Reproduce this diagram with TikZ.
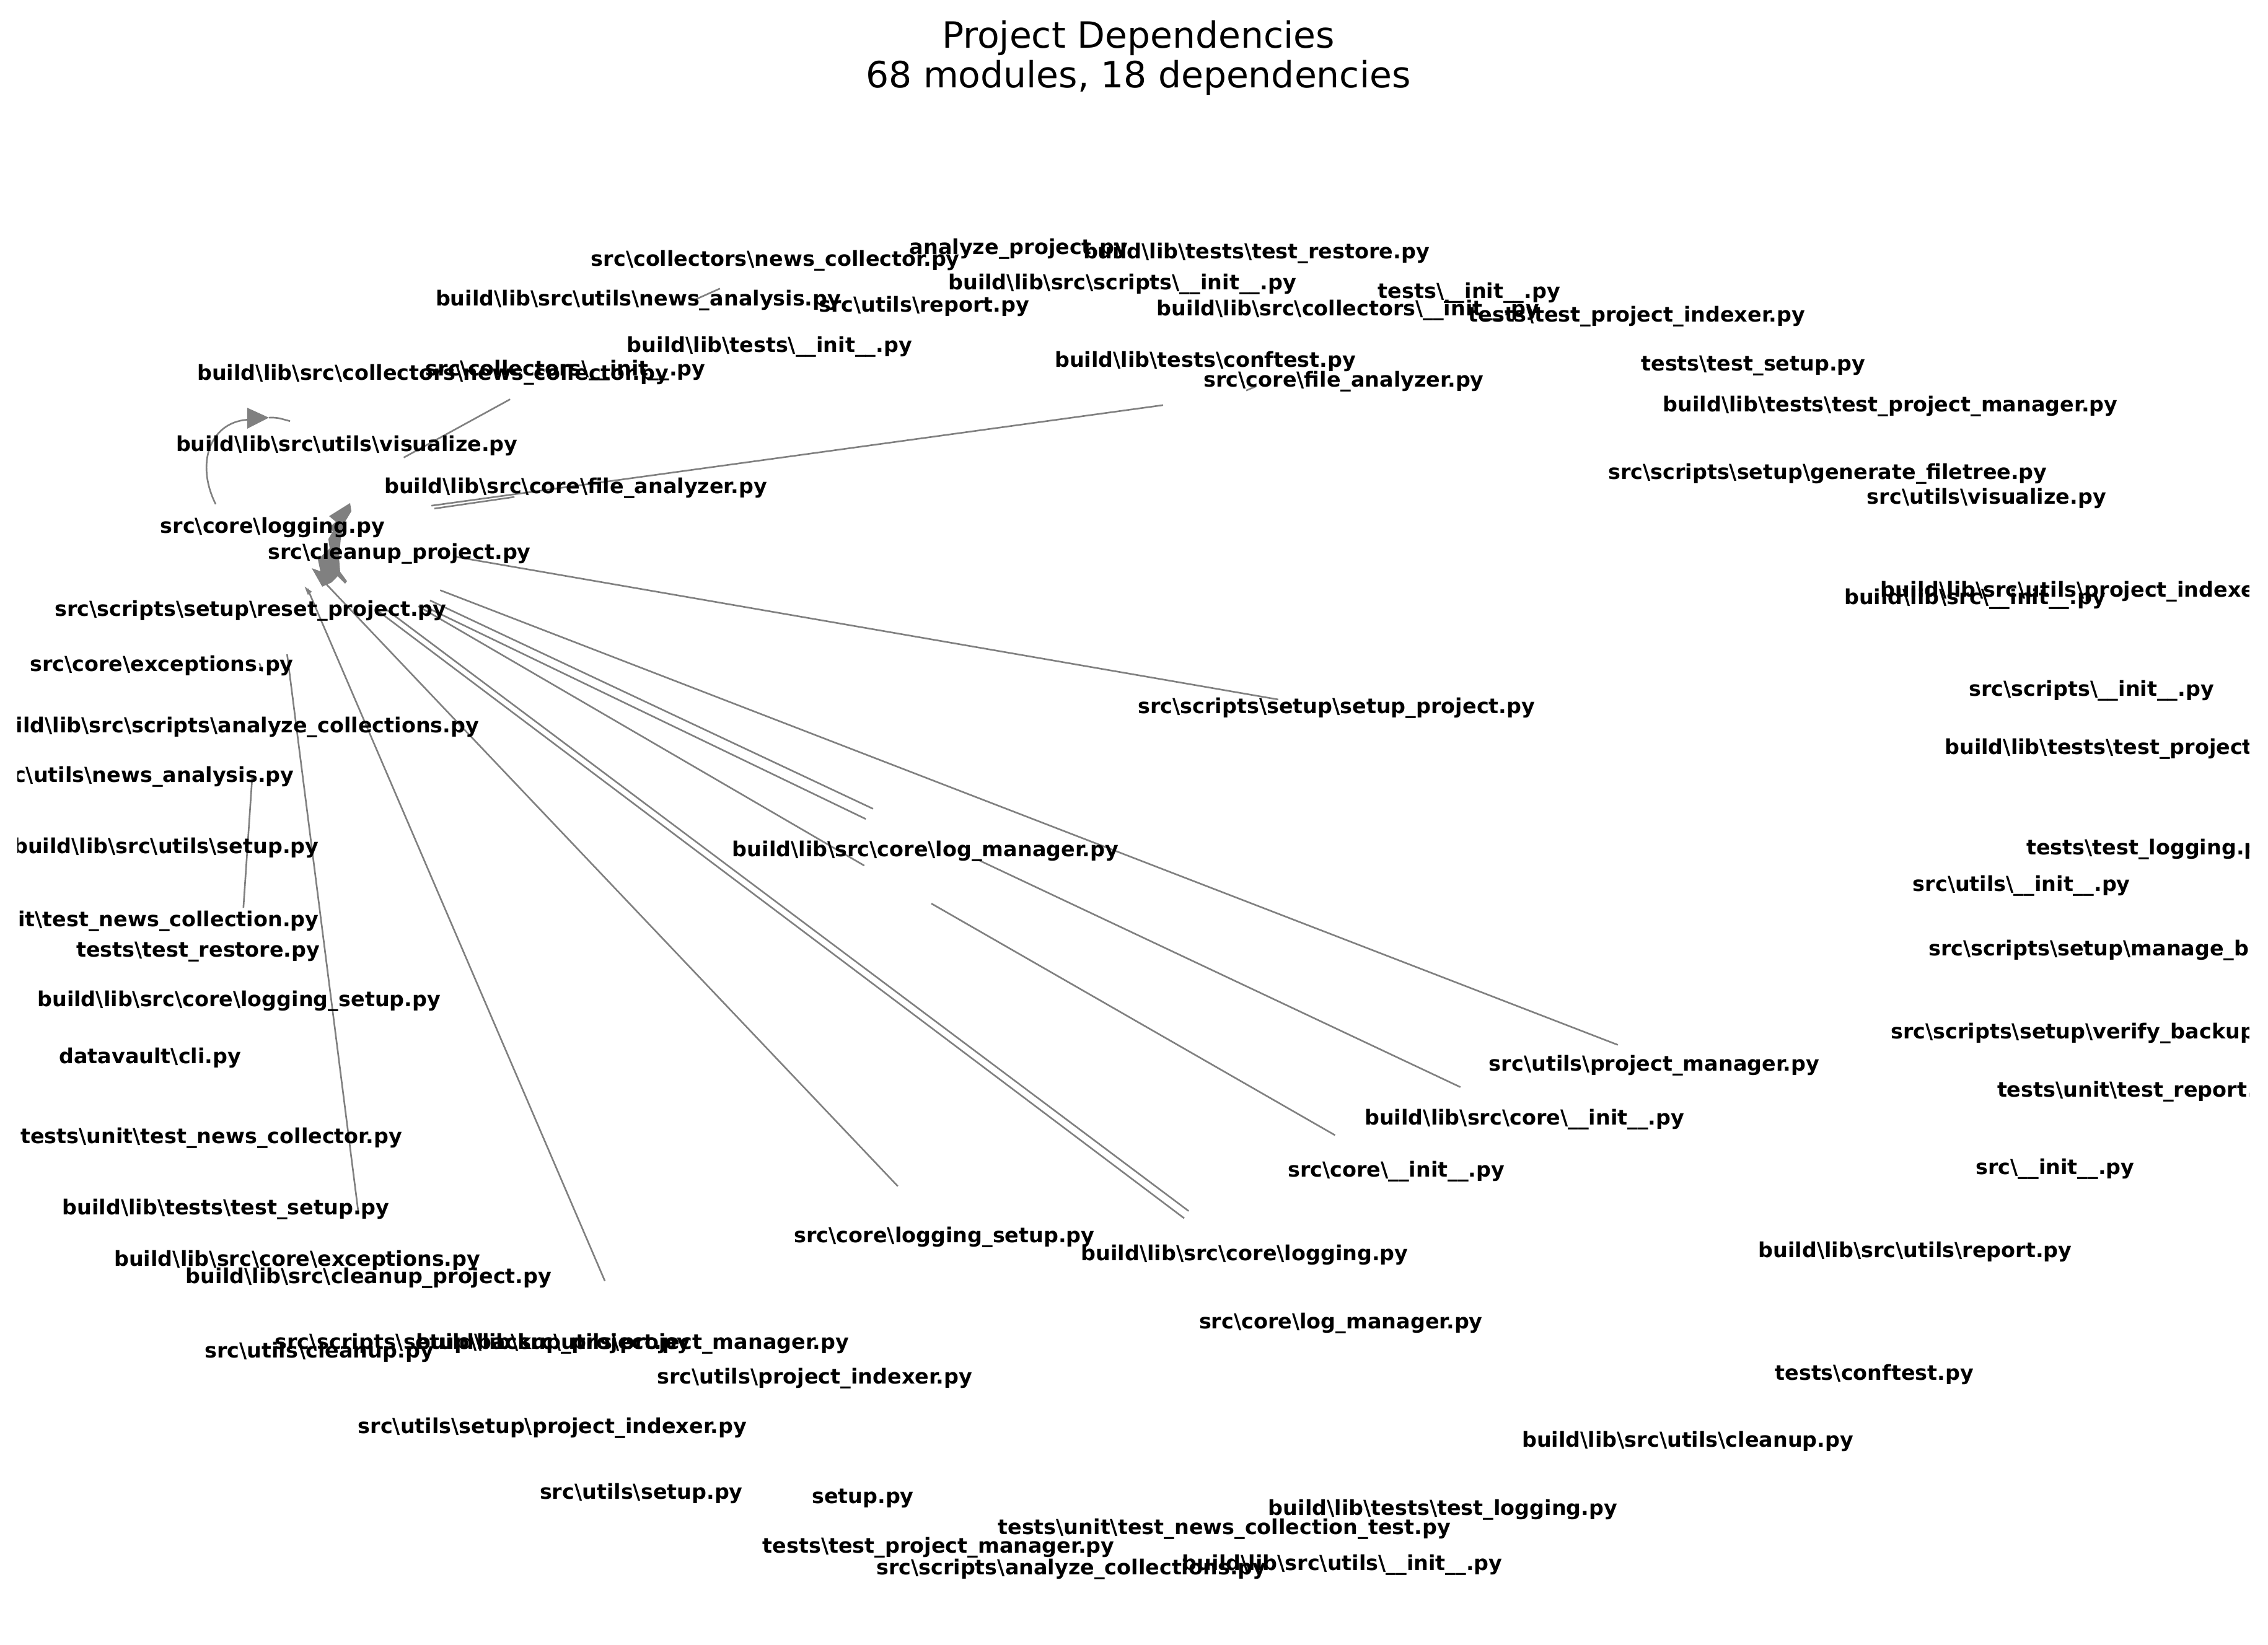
\documentclass[tikz,border=0pt]{standalone}
\usepackage{fontspec}
\setmainfont{DejaVu Sans}
\newcommand*{\BS}{\textbackslash}
\tikzset{
  modname/.style={font=\bfseries\fontsize{9.5}{11}\selectfont, inner sep=0pt},
  titletext/.style={font=\fontsize{16.6}{20}\selectfont, inner sep=0pt},
  dep/.style={draw=gray, line width=0.75pt},
  dephead/.style={fill=gray},
}

\begin{document}
\begin{tikzpicture}[x=0.02352cm, y=-0.02352cm]

\useasboundingbox (0,0) rectangle (1556.1,1128.4);

% Title
\node[titletext] (title)    at (781,26.2) {Project Dependencies};
\node[titletext] (subtitle) at (781,53.5) {68 modules, 18 dependencies};

% Edge end points
\coordinate (loopS) at (148,346);
\coordinate (loopB) at (169.6,288);
\coordinate (loopH) at (184.5,286.6);
\coordinate (loopE) at (199,289);
\coordinate (colS)  at (350,274);   \coordinate (colE)  at (277,314);
\coordinate (faS)   at (798,278);   \coordinate (faE)   at (296,347);
\coordinate (fbS)   at (353,341);   \coordinate (fbE)   at (298,349);
\coordinate (setS)  at (877,480);   \coordinate (setE)  at (312,382);
\coordinate (pmS)   at (1110,717);  \coordinate (pmE)   at (302,405);
\coordinate (bciS)  at (1002,746);  \coordinate (bciE)  at (671,590);
\coordinate (lmaS)  at (599,555);   \coordinate (lmaE)  at (295,412);
\coordinate (lmbS)  at (594,562);   \coordinate (lmbE)  at (291,416);
\coordinate (lmcS)  at (593,594);   \coordinate (lmcE)  at (287,416);
\coordinate (ciS)   at (916,779);   \coordinate (ciE)   at (639,620);
\coordinate (lgaS)  at (815.5,831); \coordinate (lgaE)  at (262,416);
\coordinate (lgbS)  at (812.5,836); \coordinate (lgbE)  at (259,419);
\coordinate (lsS)   at (616,814);   \coordinate (lsE)   at (224,401);
\coordinate (bpS)   at (415,879);   \coordinate (bpE)   at (211,404);
\coordinate (tsS)   at (246,833);   \coordinate (tsE)   at (197,449);
\coordinate (ncS)   at (167,623);   \coordinate (ncE)   at (173,534);
\coordinate (naS)   at (476,206);   \coordinate (naE)   at (494,198);
\coordinate (fxS)   at (855,268);   \coordinate (fxE)   at (862,265);
\coordinate (exS)   at (178,455);   \coordinate (exE)   at (180,461);

% Edges
\draw[dep] (loopS) .. controls (134,318) and (144,290) .. (loopB);
\fill[dephead] (169.6,279.8) -- (loopH) -- (169.6,294.2) -- cycle;
\draw[dep] (loopH) .. controls (190,286.5) .. (loopE);
\draw[dep] (colS) -- (colE);
\draw[dep] (faS)  -- (faE);
\draw[dep] (fbS)  -- (fbE);
\draw[dep] (setS) -- (setE);
\draw[dep] (pmS)  -- (pmE);
\draw[dep] (bciS) -- (bciE);
\draw[dep] (lmaS) -- (lmaE);
\draw[dep] (lmbS) -- (lmbE);
\draw[dep] (lmcS) -- (lmcE);
\draw[dep] (ciS)  -- (ciE);
\draw[dep] (lgaS) -- (lgaE);
\draw[dep] (lgbS) -- (lgbE);
\draw[dep] (lsS)  -- (lsE);
\draw[dep] (bpS)  -- (bpE);
\draw[dep] (tsS)  -- (tsE);
\draw[dep] (ncS)  -- (ncE);
\draw[dep] (naS)  -- (naE);
\draw[dep] (fxS)  -- (fxE);
\draw[dep] (exS)  -- (exE);

% Arrow heads piled up near src\core\logging.py
\fill[dephead] (225.8,354.2) -- (240.2,345.2) -- (241.1,350.8) -- (236.0,359.3)
  -- (233.8,369.9) -- (232.6,382.7) -- (233.4,392.4) -- (238.1,398.8)
  -- (236.8,400.5) -- (231.7,395.4) -- (227.5,399.7) -- (221.1,402.6)
  -- (213.9,389.9) -- (219.8,392.0) -- (218.1,383.9) -- (226.2,376.3)
  -- (225.3,369.9) -- (228.3,364.8) -- (226.6,361.4) -- (230.4,358.0) -- cycle;
\fill[dephead] (209,402.5) -- (214,406) -- (211.2,408.2) -- cycle;

% Module labels
\begin{scope}
\clip (12,0) rectangle (1543,1128.4);
\node[modname] (colNews)       at (532,179)  {src\BS collectors\BS news\_collector.py};
\node[modname] (anaProj)       at (699,171)  {analyze\_project.py};
\node[modname] (blTestRestore) at (862,174)  {build\BS lib\BS tests\BS test\_restore.py};
\node[modname] (blScriptsInit) at (770,195)  {build\BS lib\BS src\BS scripts\BS\_\_init\_\_.py};
\node[modname] (blNewsAna)     at (438,206)  {build\BS lib\BS src\BS utils\BS news\_analysis.py};
\node[modname] (utilReport)    at (634,210)  {src\BS utils\BS report.py};
\node[modname] (testsInit)     at (1008,201) {tests\BS\_\_init\_\_.py};
\node[modname] (blColInit)     at (925,213)  {build\BS lib\BS src\BS collectors\BS\_\_init\_\_.py};
\node[modname] (testProjIdx)   at (1123,217) {tests\BS test\_project\_indexer.py};
\node[modname] (blTestsInit)   at (528,238)  {build\BS lib\BS tests\BS\_\_init\_\_.py};
\node[modname] (colInit)       at (388,254)  {src\BS collectors\BS\_\_init\_\_.py};
\node[modname] (blConftest)    at (827,248)  {build\BS lib\BS tests\BS conftest.py};
\node[modname] (fileAna)       at (922,262)  {src\BS core\BS file\_analyzer.py};
\node[modname] (blColNews)     at (297,257)  {build\BS lib\BS src\BS collectors\BS news\_collector.py};
\node[modname] (testSetup)     at (1203,251) {tests\BS test\_setup.py};
\node[modname] (blTestProjMgr) at (1297,279) {build\BS lib\BS tests\BS test\_project\_manager.py};
\node[modname] (blVisualize)   at (238,306)  {build\BS lib\BS src\BS utils\BS visualize.py};
\node[modname] (genTree)       at (1254,325) {src\BS scripts\BS setup\BS generate\_filetree.py};
\node[modname] (visualize)     at (1363,342) {src\BS utils\BS visualize.py};
\node[modname] (blFileAna)     at (395,335)  {build\BS lib\BS src\BS core\BS file\_analyzer.py};
\node[modname] (coreLogging)   at (187,362)  {src\BS core\BS logging.py};
\node[modname] (cleanupProj)   at (274,380)  {src\BS cleanup\_project.py};
\node[modname, anchor=west] (blProjIdx) at (1290,406) {build\BS lib\BS src\BS utils\BS project\_indexer.py};
\node[modname] (blSrcInit)     at (1355,411) {build\BS lib\BS src\BS\_\_init\_\_.py};
\node[modname] (resetProj)     at (172,419)  {src\BS scripts\BS setup\BS reset\_project.py};
\node[modname] (coreExc)       at (111,457)  {src\BS core\BS exceptions.py};
\node[modname] (scriptsInit)   at (1435,474) {src\BS scripts\BS\_\_init\_\_.py};
\node[modname, anchor=east] (blAnaColl) at (329,499) {build\BS lib\BS src\BS scripts\BS analyze\_collections.py};
\node[modname] (setupProj)     at (917,486)  {src\BS scripts\BS setup\BS setup\_project.py};
\node[modname, anchor=west] (blTestProjIdx) at (1334,514) {build\BS lib\BS tests\BS test\_project\_indexer.py};
\node[modname, anchor=east] (newsAna) at (202,533) {src\BS utils\BS news\_analysis.py};
\node[modname] (blLogMgr)      at (635,584)  {build\BS lib\BS src\BS core\BS log\_manager.py};
\node[modname, anchor=east] (blUtilSetup) at (219,582) {build\BS lib\BS src\BS utils\BS setup.py};
\node[modname, anchor=west] (testLogging) at (1390,583) {tests\BS test\_logging.py};
\node[modname] (utilsInit)     at (1387,608) {src\BS utils\BS\_\_init\_\_.py};
\node[modname, anchor=east] (testNewsColl) at (219,632) {tests\BS unit\BS test\_news\_collection.py};
\node[modname] (testRestore)   at (136,653)  {tests\BS test\_restore.py};
\node[modname, anchor=west] (manageBackup) at (1323,652) {src\BS scripts\BS setup\BS manage\_backup.py};
\node[modname] (blLogSetup)    at (164,687)  {build\BS lib\BS src\BS core\BS logging\_setup.py};
\node[modname, anchor=west] (verifyBackup) at (1297,709) {src\BS scripts\BS setup\BS verify\_backup.py};
\node[modname] (projMgr)       at (1135,731) {src\BS utils\BS project\_manager.py};
\node[modname] (cli)           at (103,726)  {datavault\BS cli.py};
\node[modname, anchor=west] (testReport) at (1370,749) {tests\BS unit\BS test\_report.py};
\node[modname] (blCoreInit)    at (1046,768) {build\BS lib\BS src\BS core\BS\_\_init\_\_.py};
\node[modname] (testNewsCollector) at (145,781) {tests\BS unit\BS test\_news\_collector.py};
\node[modname] (srcInit)       at (1410,802) {src\BS\_\_init\_\_.py};
\node[modname] (coreInit)      at (958,804)  {src\BS core\BS\_\_init\_\_.py};
\node[modname] (blTestSetup)   at (155,830)  {build\BS lib\BS tests\BS test\_setup.py};
\node[modname] (logSetup)      at (648,849)  {src\BS core\BS logging\_setup.py};
\node[modname] (blCoreLogging) at (854,861)  {build\BS lib\BS src\BS core\BS logging.py};
\node[modname] (blCoreExc)     at (204,865)  {build\BS lib\BS src\BS core\BS exceptions.py};
\node[modname] (blReport)      at (1314,859) {build\BS lib\BS src\BS utils\BS report.py};
\node[modname] (blCleanup)     at (253,877)  {build\BS lib\BS src\BS cleanup\_project.py};
\node[modname] (logMgr)        at (920,908)  {src\BS core\BS log\_manager.py};
\node[modname] (backupProj)    at (331,922)  {src\BS scripts\BS setup\BS backup\_project.py};
\node[modname] (blProjMgr)     at (434,922)  {build\BS lib\BS src\BS utils\BS project\_manager.py};
\node[modname] (utilCleanup)   at (219,928)  {src\BS utils\BS cleanup.py};
\node[modname] (projIdx)       at (559,946)  {src\BS utils\BS project\_indexer.py};
\node[modname] (conftest)      at (1286,943) {tests\BS conftest.py};
\node[modname] (setupProjIdx)  at (379,980)  {src\BS utils\BS setup\BS project\_indexer.py};
\node[modname] (blUtilCleanup) at (1158,989) {build\BS lib\BS src\BS utils\BS cleanup.py};
\node[modname] (utilSetup)     at (440,1025) {src\BS utils\BS setup.py};
\node[modname] (setupPy)       at (592,1028) {setup.py};
\node[modname] (blTestLogging) at (990,1036) {build\BS lib\BS tests\BS test\_logging.py};
\node[modname] (testNewsCollTest) at (840,1049) {tests\BS unit\BS test\_news\_collection\_test.py};
\node[modname] (testProjMgr)   at (644,1062) {tests\BS test\_project\_manager.py};
\node[modname] (anaColl)       at (735,1077) {src\BS scripts\BS analyze\_collections.py};
\node[modname] (blUtilsInit)   at (921,1074) {build\BS lib\BS src\BS utils\BS\_\_init\_\_.py};
\end{scope}

\end{tikzpicture}
\end{document}
